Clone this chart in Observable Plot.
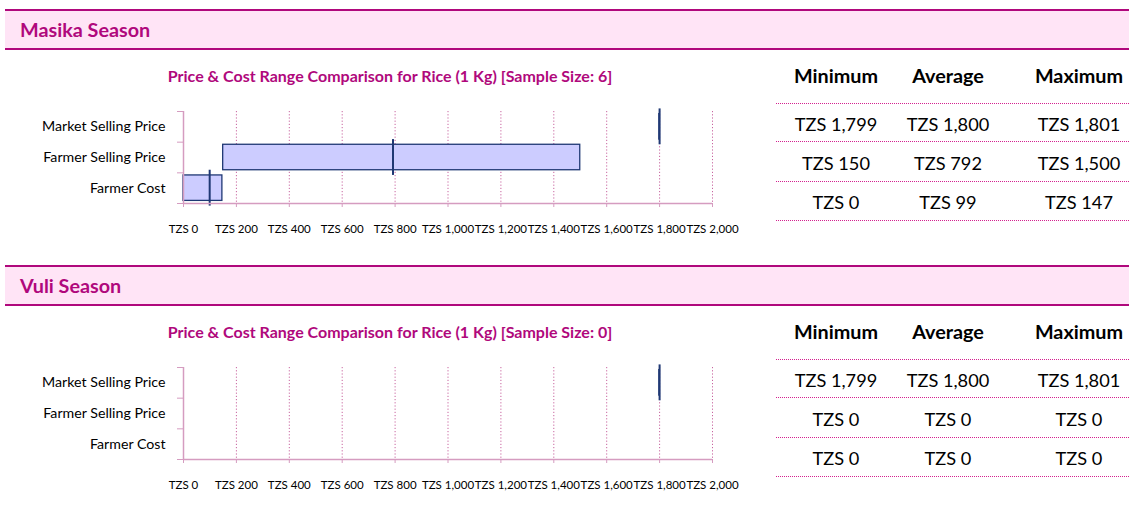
<!DOCTYPE html>
<html><head><meta charset="utf-8">
<script src="https://cdn.jsdelivr.net/npm/d3@7"></script>
<script src="https://cdn.jsdelivr.net/npm/@observablehq/plot@0.6"></script>
<style>
body{margin:0;background:#fff;font-family:Lato,sans-serif;}
#root{position:relative;width:1129px;height:515px;overflow:hidden;background:#fff;}
.hdr{position:absolute;left:5px;right:0;height:36.5px;background:#FFE4F6;border-top:2px solid #B0087C;border-bottom:2px solid #B0087C;box-sizing:content-box;}
.hdr span{position:absolute;left:15px;top:50%;transform:translateY(-50%);font-weight:bold;font-size:19.8px;color:#B0087C;white-space:nowrap;line-height:1;}
.lbl{position:absolute;transform:translate(-50%,-50%);white-space:nowrap;line-height:1;}
.rule{position:absolute;left:776px;width:353px;height:0;border-top:1px dotted #D4208F;}
.chart{position:absolute;left:0;}
</style></head>
<body><div id="root"></div>
<script>
// ---- data ----
const seasons = ["Masika Season", "Vuli Season"];
const sampleSizes = [6, 0];
const categories = ["Market Selling Price", "Farmer Selling Price", "Farmer Cost"];
const masikaMin = [1799, 150, 0];
const masikaAvg = [1800, 792, 99];
const masikaMax = [1801, 1500, 147];
const vuliMin = [1799, 0, 0];
const vuliAvg = [1800, 0, 0];
const vuliMax = [1801, 0, 0];
const xTicks = [0, 200, 400, 600, 800, 1000, 1200, 1400, 1600, 1800, 2000];
const tableHeaders = ["Minimum", "Average", "Maximum"];

const seasonData = [
  {min: masikaMin, avg: masikaAvg, max: masikaMax},
  {min: vuliMin, avg: vuliAvg, max: vuliMax}
];

// ---- style ----
const magenta = "#B0087C";
const navy = "#1F3874";
const pinkAxis = "#D59CC0";
const pinkGrid = "#C8649F";
const fmt = d => "TZS " + d3.format(",")(d);

const root = document.getElementById("root");
function addLabel(text, x, y, css) {
  const d = document.createElement("div");
  d.className = "lbl";
  d.textContent = text;
  d.style.left = x + "px";
  d.style.top = y + "px";
  Object.assign(d.style, css);
  root.appendChild(d);
}

const step = 256;
const colX = [836, 948, 1079];
const rowY = [123.5, 162.5, 201.7];
const ruleY = [102.7, 141.3, 180.7, 220];

seasons.forEach((season, s) => {
  const dy = s * step;
  // header bar
  const h = document.createElement("div");
  h.className = "hdr";
  h.style.top = (9.3 + dy) + "px";
  const sp = document.createElement("span");
  sp.textContent = season;
  h.appendChild(sp);
  root.appendChild(h);

  // chart title
  addLabel(`Price & Cost Range Comparison for Rice (1 Kg) [Sample Size: ${sampleSizes[s]}]`, 390, 76 + dy,
    {fontWeight: "bold", fontSize: "16px", color: magenta});

  const sd = seasonData[s];
  const rows = categories.map((c, i) => ({
    cat: c, min: sd.min[i], avg: sd.avg[i], max: sd.max[i], y1: 2 - i, y2: 3 - i
  }));
  const shown = rows.filter(r => r.max > r.min);

  const chart = Plot.plot({
    width: 760, height: 140,
    marginLeft: 183, marginRight: 48, marginTop: 11, marginBottom: 37,
    x: {domain: [0, 2000]},
    y: {domain: [0, 3]},
    style: {fontFamily: "Lato, sans-serif", fontSize: "11.5px", color: "#000", background: "transparent", overflow: "visible"},
    marks: [
      Plot.gridX({ticks: xTicks.filter(d => d > 0), stroke: pinkGrid, strokeOpacity: 1, strokeDasharray: "1.2,2"}),
      Plot.rect(shown, {x1: "min", x2: "max", y1: "y1", y2: "y2", fill: "#CCCCFF", stroke: navy, strokeWidth: 1.3, insetTop: 2.6, insetBottom: 2.6}),
      Plot.ruleX(shown, {x: "avg", y1: "y1", y2: "y2", stroke: navy, strokeWidth: 2, insetTop: 2.6, insetBottom: 2.6}),
      Plot.ruleY([0], {stroke: pinkAxis, strokeWidth: 1.5}),
      Plot.ruleX([0], {stroke: pinkAxis, strokeWidth: 1.5}),
      Plot.axisX({ticks: xTicks, tickSize: 4, tickPadding: 17, tickFormat: fmt, stroke: pinkAxis, fill: "#000", label: null, fontSize: 11.5}),
      Plot.axisY({ticks: [0, 1, 2, 3], tickSize: 6, tickFormat: () => "", stroke: pinkAxis, label: null}),
      Plot.axisY({ticks: [0.5, 1.5, 2.5], tickSize: 0, tickPadding: 18, tickFormat: d => categories[2 - Math.floor(d)], fill: "#000", label: null, fontSize: 14.2})
    ]
  });
  chart.classList.add("chart");
  chart.style.top = (100 + dy) + "px";
  root.appendChild(chart);

  // table
  tableHeaders.forEach((t, j) => addLabel(t, colX[j], 76 + dy, {fontWeight: "bold", fontSize: "19.8px", color: "#000"}));
  ruleY.forEach(y => {
    const r = document.createElement("div");
    r.className = "rule";
    r.style.top = (y + dy) + "px";
    root.appendChild(r);
  });
  rows.forEach((r, i) => {
    [r.min, r.avg, r.max].forEach((v, j) => addLabel(fmt(v), colX[j], rowY[i] + dy, {fontSize: "18.2px", color: "#000"}));
  });
});
</script>
</body></html>
